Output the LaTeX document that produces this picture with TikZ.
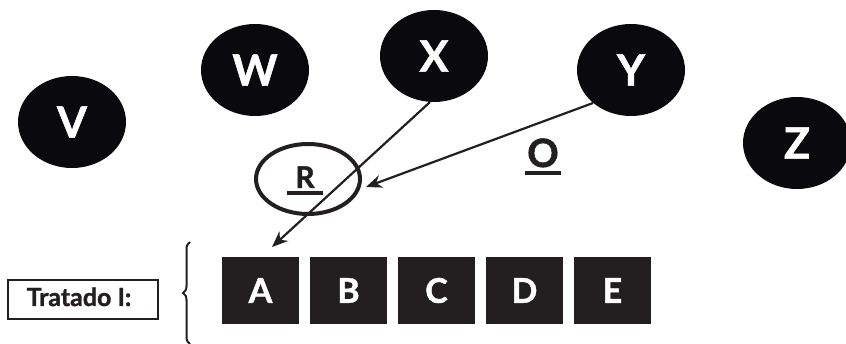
\documentclass[tikz,border=0pt]{standalone}
\usepackage{fontspec}
\setmainfont{Lato}[BoldFeatures={FakeBold=1.3}]
\usetikzlibrary{shapes.geometric,arrows.meta,decorations.pathreplacing}
\definecolor{ink}{HTML}{0A0A0E}
\definecolor{sq}{HTML}{231F20}
\begin{document}
\begin{tikzpicture}[x=1pt,y=-1pt,
  player/.style={ellipse,fill=ink,minimum width=108pt,minimum height=92pt,inner sep=0pt,text=white,font=\fontsize{43}{43}\selectfont\bfseries},
  box/.style={rectangle,fill=sq,minimum width=77pt,minimum height=67pt,inner sep=0pt,text=white,font=\fontsize{34}{34}\selectfont\bfseries},
  lbl/.style={text=sq,inner sep=0pt,font=\bfseries},
  uline/.style={draw=sq,line width=3.2pt},
  conn/.style={line width=2.2pt,draw=sq,-{Stealth[length=16pt,width=13pt]}}]
\useasboundingbox (0,0) rectangle (846,344);
\node[player] (V) at (72,122) {V};
\node[player] (W) at (255,70) {W};
\node[player] (X) at (434,56) {X};
\node[player] (Y) at (631,70) {Y};
\node[player] (Z) at (797,143) {Z};
\node[ellipse,draw=sq,line width=4pt,minimum width=104pt,minimum height=70pt,inner sep=0pt] (R) at (308,179) {};
\node[lbl,font=\fontsize{30}{30}\selectfont\bfseries,anchor=base] (Rt) at (305,188) {R};
\node[lbl,font=\fontsize{39}{39}\selectfont\bfseries,anchor=base] (O) at (543,167) {O};
\coordinate (ru1) at (287,193);
\coordinate (ru2) at (323,193);
\coordinate (ou1) at (525,173);
\coordinate (ou2) at (561,173);
\draw[uline] (ru1) -- (ru2);
\draw[uline] (ou1) -- (ou2);
\node[box] (A) at (260.5,290.5) {A};
\node[box] (B) at (348.5,290.5) {B};
\node[box] (C) at (436.5,290.5) {C};
\node[box] (D) at (524.5,290.5) {D};
\node[box] (E) at (612.5,290.5) {E};
\node[draw=sq,line width=2.4pt,minimum width=150pt,minimum height=39pt,inner sep=0pt] (T) at (83,299.5) {};
\node[lbl,font=\fontsize{25}{25}\selectfont\bfseries,anchor=base] (Tt) at (79,306) {Tratado I:};
\coordinate (atip) at (272,247);
\coordinate (rtip) at (366,187);
\draw[conn] (X.265) -- (atip);
\draw[conn] (Y.221) -- (rtip);
\coordinate (b1) at (190,344);
\coordinate (b2) at (190,242);
\draw[sq,line width=2pt,decorate,decoration={brace,amplitude=7pt}] (b1) -- (b2);
\end{tikzpicture}
\end{document}
